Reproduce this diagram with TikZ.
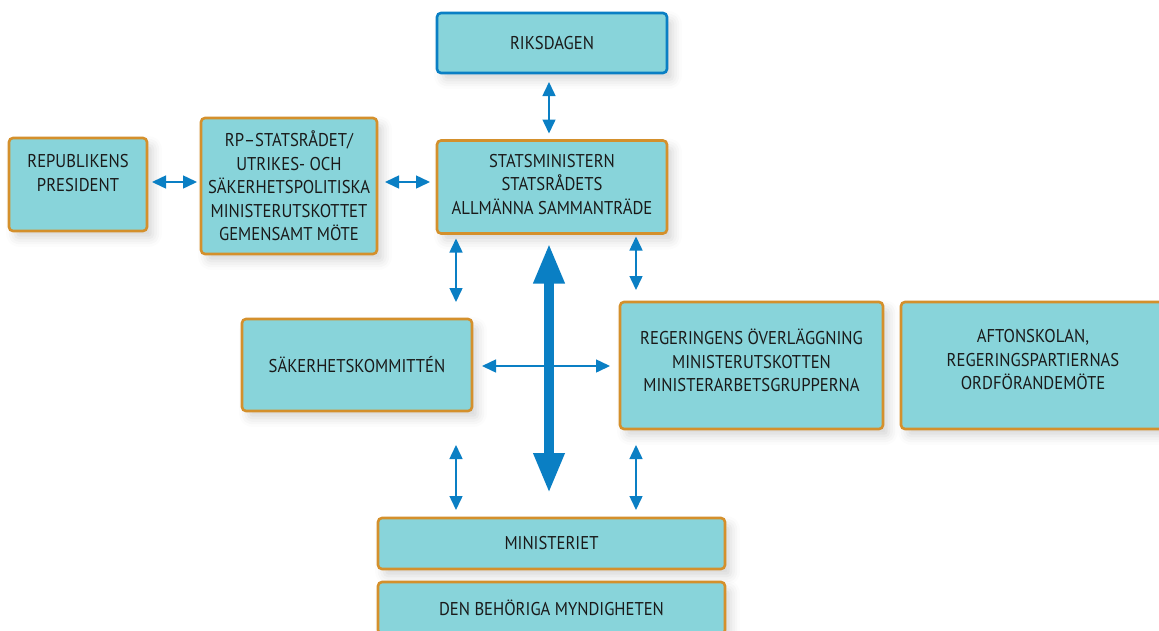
\documentclass[tikz,border=0pt]{standalone}
\usepackage{fontspec}
\setmainfont{PT Sans}[FakeStretch=0.9]
\usetikzlibrary{arrows.meta,shadows.blur}
\definecolor{boxfill}{HTML}{88D4DA}
\definecolor{boxline}{HTML}{D4902C}
\definecolor{arrblue}{HTML}{0A7FC4}
\definecolor{txt}{HTML}{1A1A1A}
\tikzset{
  box/.style={draw=boxline, line width=2.6pt, fill=boxfill, rounded corners=4pt,
    align=center, text=txt, font=\fontsize{18.5}{23.5}\selectfont, inner sep=0pt, outer sep=0pt,
    blur shadow={shadow xshift=6pt, shadow yshift=-7pt, shadow blur radius=9pt, shadow opacity=16}},
  bluebox/.style={box, draw=arrblue},
  arr/.style={draw=arrblue, line width=1.5pt, {Triangle[length=14pt,width=13pt]}-{Triangle[length=14pt,width=13pt]}},
  bigarr/.style={draw=arrblue, line width=9.5pt, {Triangle[length=40pt,width=29pt]}-{Triangle[length=40pt,width=29pt]}}
}
\begin{document}
\begin{tikzpicture}[x=1pt,y=-1pt]
\useasboundingbox (0,0) rectangle (1159,630);
\node[bluebox, minimum width=230pt, minimum height=60pt] (riks) at (552,43) {RIKSDAGEN};
\node[box, minimum width=138pt, minimum height=93pt] (pres) at (78,184.5) {REPUBLIKENS\\PRESIDENT\\\mbox{}};
\node[box, minimum width=176pt, minimum height=136pt] (rp) at (289,186) {RP--STATSRÅDET/\\UTRIKES- OCH\\SÄKERHETSPOLITISKA\\MINISTERUTSKOTTET\\GEMENSAMT MÖTE};
\node[box, minimum width=230pt, minimum height=93pt] (stm) at (552,187) {STATSMINISTERN\\STATSRÅDETS\\ALLMÄNNA SAMMANTRÄDE\\[-17.5pt]\mbox{}};
\node[box, minimum width=230pt, minimum height=92pt] (sak) at (357,365) {SÄKERHETSKOMMITTÉN};
\node[box, minimum width=263pt, minimum height=127pt] (reg) at (751.5,365.5) {REGERINGENS ÖVERLÄGGNING\\MINISTERUTSKOTTEN\\MINISTERARBETSGRUPPERNA\\[-13.5pt]\mbox{}};
\node[box, minimum width=264pt, minimum height=127pt] (aft) at (1033,365.5) {AFTONSKOLAN,\\REGERINGSPARTIERNAS\\ORDFÖRANDEMÖTE\\[-11.5pt]\mbox{}};
\node[box, minimum width=347pt, minimum height=51pt] (min) at (551.5,543.5) {MINISTERIET};
\node[box, minimum width=347pt, minimum height=52pt] (den) at (551.5,608) {DEN BEHÖRIGA MYNDIGHETEN};

% connectors
\draw[arr] ([xshift=-3pt,yshift=-9pt]riks.south) -- ([xshift=-3pt,yshift=7pt]stm.north);
\draw[arr] ([xshift=5pt,yshift=2.5pt]pres.east) -- ([xshift=-4pt,yshift=4pt]rp.west);
\draw[arr] ([xshift=8pt,yshift=4pt]rp.east) -- ([xshift=-7pt,yshift=5pt]stm.west);
\draw[arr] ([xshift=19pt,yshift=-5pt]stm.south west) -- ([xshift=214pt,yshift=17pt]sak.north west);
\draw[arr] ([xshift=-31pt,yshift=-3pt]stm.south east) -- ([xshift=16pt,yshift=12pt]reg.north west);
\draw[arr] ([xshift=10pt,yshift=-1pt]sak.east) -- ([xshift=-10pt,yshift=-0.5pt]reg.west);
\draw[arr] ([xshift=214pt,yshift=-34pt]sak.south west) -- ([xshift=78pt,yshift=8pt]min.north west);
\draw[arr] ([xshift=16pt,yshift=-16pt]reg.south west) -- ([xshift=258pt,yshift=8pt]min.north west);
\draw[bigarr] ([xshift=-3pt,yshift=-10pt]stm.south) -- ([xshift=-2.5pt,yshift=25pt]min.north);
\end{tikzpicture}
\end{document}
